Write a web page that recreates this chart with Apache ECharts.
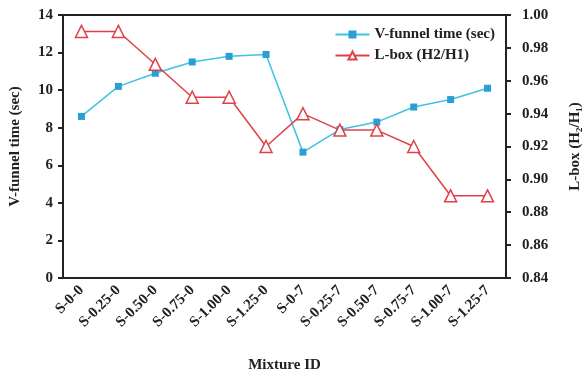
<!DOCTYPE html>
<html>
<head>
<meta charset="utf-8">
<title>V-funnel and L-box</title>
<script src="https://cdn.jsdelivr.net/npm/echarts@6/dist/echarts.min.js"></script>
<style>
  html, body { margin: 0; padding: 0; background: #fff; }
  #chart { width: 582px; height: 382px; }
</style>
</head>
<body>
<div id="chart"></div>
<script>
var categories = ['S-0-0', 'S-0.25-0', 'S-0.50-0', 'S-0.75-0', 'S-1.00-0', 'S-1.25-0',
                  'S-0-7', 'S-0.25-7', 'S-0.50-7', 'S-0.75-7', 'S-1.00-7', 'S-1.25-7'];
var vfunnel = [8.6, 10.2, 10.9, 11.5, 11.8, 11.9, 6.7, 7.9, 8.3, 9.1, 9.5, 10.1];
var lbox = [0.99, 0.99, 0.97, 0.95, 0.95, 0.92, 0.94, 0.93, 0.93, 0.92, 0.89, 0.89];

var font = 'Liberation Serif';
var axisText = { color: '#222', fontFamily: font, fontWeight: 'bold', fontSize: 15 };
var nameText = { fontFamily: font, fontWeight: 'bold', fontSize: 15, color: '#222' };

var chart = echarts.init(document.getElementById('chart'));
chart.setOption({
  animation: false,
  grid: {
    left: 63, top: 15, right: 76, bottom: 104,
    outerBoundsMode: 'none', containLabel: false,
    show: true, borderColor: '#222', borderWidth: 2
  },
  legend: {
    right: 82, top: 22, orient: 'vertical', itemGap: 6,
    itemWidth: 34, itemHeight: 10,
    textStyle: nameText,
    data: ['V-funnel time (sec)', 'L-box (H2/H1)']
  },
  xAxis: {
    type: 'category', data: categories, boundaryGap: true,
    name: 'Mixture ID', nameLocation: 'middle', nameGap: 80,
    nameTextStyle: nameText,
    axisLine: { lineStyle: { color: '#222', width: 2 } },
    axisTick: { alignWithLabel: false, length: 5, lineStyle: { width: 2 } },
    axisLabel: Object.assign({ rotate: 45, margin: 10 }, axisText)
  },
  yAxis: [{
    type: 'value', min: 0, max: 14, interval: 2,
    name: 'V-funnel time (sec)', nameLocation: 'middle', nameGap: 40,
    nameTextStyle: nameText,
    axisLine: { show: true, lineStyle: { color: '#222', width: 2 } },
    axisTick: { show: true, length: 5, lineStyle: { width: 2 } },
    axisLabel: Object.assign({ margin: 10 }, axisText),
    splitLine: { show: false }
  }, {
    type: 'value', min: 0.84, max: 1.00, interval: 0.02,
    name: 'L-box (H\u2082/H\u2081)', nameLocation: 'middle', nameGap: 62, nameRotate: 90,
    nameTextStyle: nameText,
    axisLine: { show: true, lineStyle: { color: '#222', width: 2 } },
    axisTick: { show: true, length: 5, lineStyle: { width: 2 } },
    axisLabel: Object.assign({ margin: 16, formatter: function (v) { return v.toFixed(2); } }, axisText),
    splitLine: { show: false }
  }],
  series: [{
    name: 'V-funnel time (sec)', type: 'line', yAxisIndex: 0, data: vfunnel,
    symbol: 'rect', symbolSize: 7,
    itemStyle: { color: '#2a9fd6' },
    lineStyle: { color: '#3fc3e0', width: 1.5 }
  }, {
    name: 'L-box (H2/H1)', type: 'line', yAxisIndex: 1, data: lbox,
    symbol: 'triangle', symbolSize: 12, showSymbol: true,
    itemStyle: { color: '#fff', borderColor: '#e0404a', borderWidth: 1.5 },
    lineStyle: { color: '#e0404a', width: 1.5 }
  }]
});
</script>
</body>
</html>
